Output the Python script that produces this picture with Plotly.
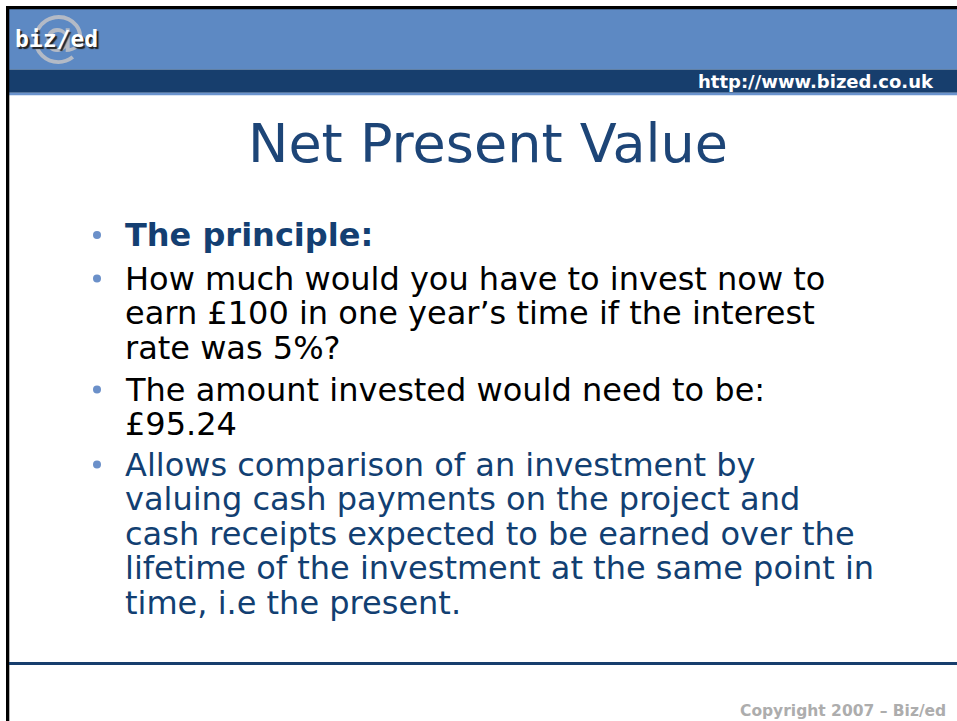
import plotly.graph_objects as go

W, H = 957, 721

title_text = "Net Present Value"
header_url = "http://www.bized.co.uk"
footer_text = "Copyright 2007 \u2013 Biz/ed"
logo_text = "biz/ed"

# bullets: lines, colour, bold, first-line y (cap centre)
bullet_lines = [
    ["The principle:"],
    ["How much would you have to invest now to",
     "earn \u00a3100 in one year\u2019s time if the interest",
     "rate was 5%?"],
    ["The amount invested would need to be:",
     "\u00a395.24"],
    ["Allows comparison of an investment by",
     "valuing cash payments on the project and",
     "cash receipts expected to be earned over the",
     "lifetime of the investment at the same point in",
     "time, i.e the present."],
]
bullet_colors = ["#143f72", "#000000", "#000000", "#123f72"]
bullet_bold = [True, False, False, False]
bullet_y0 = [235, 278.5, 389.5, 464.5]
line_step = 34.6

fig = go.Figure()
fig.update_layout(
    width=W, height=H, margin=dict(l=0, r=0, t=0, b=0),
    paper_bgcolor="white", plot_bgcolor="white", showlegend=False,
    xaxis=dict(range=[0, W], visible=False, fixedrange=True),
    yaxis=dict(range=[H, 0], visible=False, fixedrange=True),
)

R = W + 2
shapes = []
shapes.append(dict(type="rect", x0=9, x1=R, y0=9, y1=69.5, fillcolor="#5d89c3", line_width=0, layer="below"))
shapes.append(dict(type="rect", x0=9, x1=R, y0=69.5, y1=92.8, fillcolor="#173e6d", line_width=0, layer="below"))
shapes.append(dict(type="rect", x0=9, x1=R, y0=92.8, y1=95.2, fillcolor="#6a93cd", line_width=0, layer="below"))
shapes.append(dict(type="rect", x0=6, x1=R, y0=6, y1=9.3, fillcolor="#000000", line_width=0))
shapes.append(dict(type="rect", x0=6, x1=9.3, y0=6, y1=H + 2, fillcolor="#000000", line_width=0))
shapes.append(dict(type="rect", x0=9, x1=R, y0=662, y1=665, fillcolor="#173e6d", line_width=0))
# bullets
for y0 in bullet_y0:
    shapes.append(dict(type="circle", x0=93, x1=101, y0=y0 - 4, y1=y0 + 4, fillcolor="#6b90c9", line_width=0))

annotations = []
# logo "@" + text with shadow
annotations.append(dict(x=58, y=34, text="@", showarrow=False, xanchor="center", yanchor="middle",
                        font=dict(family="DejaVu Sans", size=56, color="#b3bac6")))
annotations.append(dict(x=13, y=39, text="<b>" + logo_text + "</b>", showarrow=False, xanchor="left", yanchor="middle",
                        font=dict(family="DejaVu Sans Mono", size=23, color="#ffffff",
                                  shadow="2px 2px 1px #222222")))
# url
annotations.append(dict(x=936, y=81, text="<b>" + header_url + "</b>", showarrow=False, xanchor="right", yanchor="middle",
                        font=dict(family="DejaVu Sans", size=18, color="#ffffff")))
# title
annotations.append(dict(x=487.5, y=143.5, text=title_text, showarrow=False, xanchor="center", yanchor="middle",
                        font=dict(family="DejaVu Sans", size=54, color="#1d4577")))
# bullet text
for lines, col, bold, y0 in zip(bullet_lines, bullet_colors, bullet_bold, bullet_y0):
    for i, ln in enumerate(lines):
        t = "<b>" + ln + "</b>" if bold else ln
        annotations.append(dict(x=123, y=y0 + i * line_step, text=t, showarrow=False, xanchor="left", yanchor="middle",
                                font=dict(family="DejaVu Sans", size=32, color=col)))
# footer
annotations.append(dict(x=948, y=711, text="<b>" + footer_text + "</b>", showarrow=False, xanchor="right", yanchor="middle",
                        font=dict(family="DejaVu Sans", size=15.5, color="#adadad")))

fig.update_layout(shapes=shapes, annotations=annotations)
fig.write_html("out.html", config={"displayModeBar": False},
               post_script="document.body.style.margin='0';document.body.style.overflow='hidden';")
